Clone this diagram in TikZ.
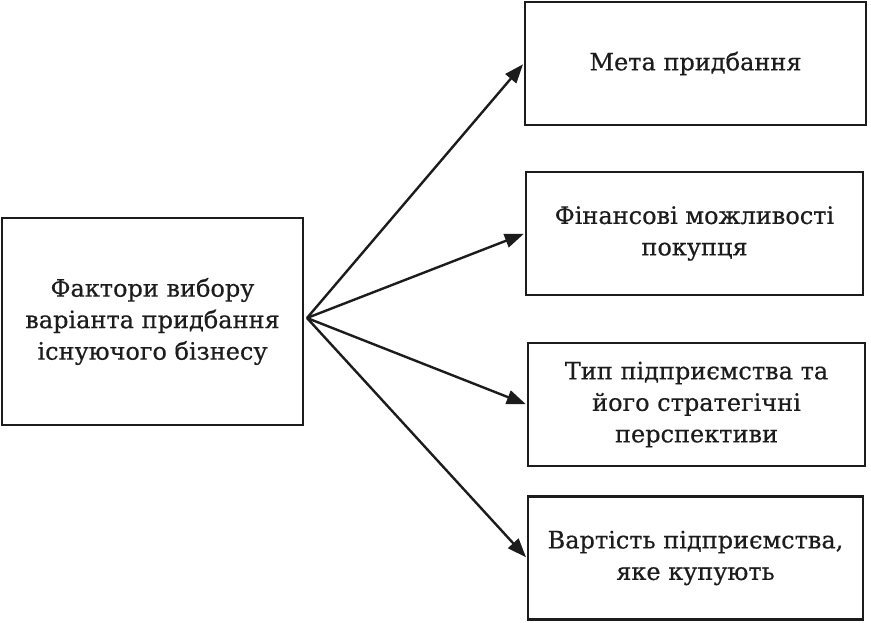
\documentclass[tikz,border=0pt]{standalone}
\usepackage{fontspec}
\setmainfont{DejaVu Serif}
\newfontfamily\boxfont{DejaVu Serif}[FakeBold=0.5]
\usetikzlibrary{arrows.meta}
\definecolor{ink}{HTML}{1c1c1c}
\tikzset{
  box/.style={draw=ink, line width=2.6pt, inner sep=0pt, align=center, text=ink,
    font=\boxfont\fontsize{24}{31.5}\selectfont},
  arr/.style={draw=ink, line width=2.4pt, -{Triangle[length=19pt,width=14pt]}, shorten >=1pt}
}
\begin{document}
\begin{tikzpicture}[x=1pt,y=-1pt]
\useasboundingbox[fill=white] (0,0) rectangle (871,622);
\node[box, minimum width=301pt, minimum height=207pt] (src) at (152.5,321.5)
  {Фактори вибору\\варіанта придбання\\існуючого бізнесу};
\node[box, minimum width=341pt, minimum height=123pt] (b1) at (695.5,63.5)
  {Мета придбання};
\node[box, minimum width=337pt, minimum height=123pt] (b2) at (694.5,233.5)
  {Фінансові можливості\\покупця};
\node[box, minimum width=337pt, minimum height=123pt] (b3) at (696.5,404.5)
  {Тип підприємства та\\його стратегічні\\перспективи};
\node[box, minimum width=335pt, minimum height=123pt] (b4) at (695.5,558)
  {Вартість підприємства,\\яке купують};
\coordinate (apex) at (307,318);
\draw[arr] (apex) -- (b1.west);
\draw[arr] (apex) -- (b2.west);
\draw[arr] (apex) -- (b3.west);
\draw[arr] (apex) -- (b4.west);
\end{tikzpicture}
\end{document}
